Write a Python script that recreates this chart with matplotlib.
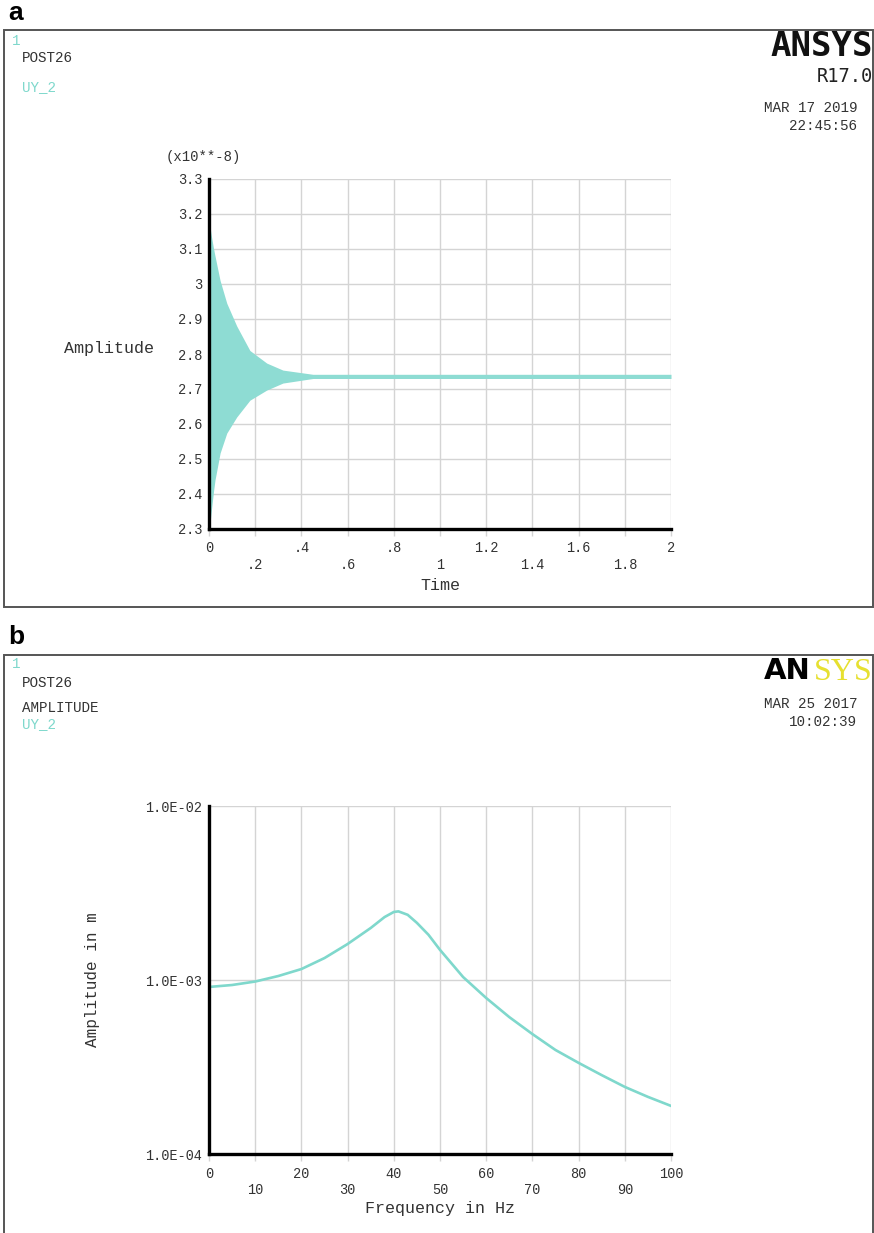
import matplotlib.pyplot as plt
from matplotlib.patches import Rectangle
from matplotlib.ticker import NullLocator

W, H = 874, 1233

# panel a: envelope of the transient response UY_2 (x10**-8)
t_env = [0, 0.005, 0.012, 0.02, 0.026, 0.048, 0.077, 0.12, 0.177, 0.25, 0.32, 0.45, 2.0]
uy_upper = [3.17, 3.16, 3.13, 3.10, 3.08, 3.01, 2.945, 2.88, 2.81, 2.774, 2.754, 2.742, 2.742]
uy_lower = [2.30, 2.32, 2.364, 2.41, 2.44, 2.517, 2.574, 2.62, 2.668, 2.697, 2.717, 2.73, 2.73]
time_major = [0, 0.4, 0.8, 1.2, 1.6, 2.0]
time_major_lbl = ["0", ".4", ".8", "1.2", "1.6", "2"]
time_minor = [0.2, 0.6, 1.0, 1.4, 1.8]
time_minor_lbl = [".2", ".6", "1", "1.4", "1.8"]
amp_ticks = [2.3, 2.4, 2.5, 2.6, 2.7, 2.8, 2.9, 3.0, 3.1, 3.2, 3.3]
amp_lbl = ["2.3", "2.4", "2.5", "2.6", "2.7", "2.8", "2.9", "3", "3.1", "3.2", "3.3"]

# panel b: frequency response amplitude (m)
freq = [0, 5, 10, 15, 20, 25, 30, 35, 38, 40, 41, 43, 45, 47.5, 50, 55, 60, 65, 70, 75, 80, 85, 90, 95, 100]
amp = [9.12e-4, 9.36e-4, 9.80e-4, 1.054e-3, 1.156e-3, 1.337e-3, 1.61e-3, 1.99e-3, 2.30e-3, 2.46e-3,
       2.48e-3, 2.37e-3, 2.13e-3, 1.82e-3, 1.49e-3, 1.04e-3, 7.88e-4, 6.12e-4, 4.89e-4, 3.96e-4,
       3.34e-4, 2.84e-4, 2.43e-4, 2.13e-4, 1.89e-4]
freq_major = [0, 20, 40, 60, 80, 100]
freq_minor = [10, 30, 50, 70, 90]
logy_ticks = [1e-4, 1e-3, 1e-2]
logy_lbl = ["1.0E-04", "1.0E-03", "1.0E-02"]

CYAN = "#7fd8cc"
FILL = "#8edcd3"
GRID = "#d4d4d4"
TXT = "#333333"
MONO = "Liberation Mono"

fig = plt.figure(figsize=(W / 100, H / 100), dpi=100)


def ftext(x, y, s, **kw):
    # place text by pixel position of the reference picture
    kw.setdefault("family", MONO)
    kw.setdefault("color", TXT)
    kw.setdefault("fontsize", 10.3)
    kw.setdefault("va", "center")
    fig.text(x / W, 1 - y / H, s, **kw)


def frame(x0, y0, x1, y1):
    fig.patches.append(Rectangle((x0 / W, 1 - y1 / H), (x1 - x0) / W, (y1 - y0) / H,
                                 transform=fig.transFigure, fill=False, ec="#555555", lw=1.4))


def style_axes(ax):
    for s in ["top", "right"]:
        ax.spines[s].set_visible(False)
    for s in ["left", "bottom"]:
        ax.spines[s].set_linewidth(2.4)
        ax.spines[s].set_color("black")
        ax.spines[s].set_zorder(5)
    ax.grid(True, which="both", axis="x", color=GRID, lw=1)
    ax.grid(True, which="major", axis="y", color=GRID, lw=1)
    ax.set_axisbelow(True)
    ax.tick_params(axis="x", which="major", direction="out", length=5, width=1, color=GRID,
                   labelsize=9.8, labelcolor=TXT, pad=4)
    ax.tick_params(axis="x", which="minor", direction="out", length=5, width=1, color=GRID,
                   labelsize=9.8, labelcolor=TXT, pad=16)
    ax.tick_params(axis="y", which="major", length=0, labelsize=9.8, labelcolor=TXT, pad=5)
    for lbl in ax.get_xticklabels(which="both") + ax.get_yticklabels():
        lbl.set_family(MONO)


# ---------- panel a ----------
ftext(8, 13, "a", family="Liberation Sans", fontweight="bold", fontsize=19, color="black")
frame(4, 30, 873, 607)
ftext(12, 41, "1", color=CYAN)
ftext(22, 58, "POST26")
ftext(22, 87, "UY_2", color=CYAN)
ftext(873, 47, "ANSYS", family="DejaVu Sans Mono", fontweight="bold", fontsize=24.5, color="#111111", ha="right")
ftext(873, 77, "R17.0", family="DejaVu Sans Mono", fontsize=13.5, color="#222222", ha="right")
ftext(857, 108, "MAR 17 2019", ha="right")
ftext(857, 126, "22:45:56", ha="right")

axa = fig.add_axes([209 / W, 1 - 529 / H, 462 / W, 350 / H])
axa.fill_between(t_env, uy_lower, uy_upper, color=FILL, lw=0, zorder=2)
axa.set_xlim(0, 2)
axa.set_ylim(2.3, 3.3)
axa.set_xticks(time_major)
axa.set_xticklabels(time_major_lbl)
axa.set_xticks(time_minor, minor=True)
axa.set_xticklabels(time_minor_lbl, minor=True)
axa.set_yticks(amp_ticks)
axa.set_yticklabels(amp_lbl)
style_axes(axa)
ftext(166, 157, "(x10**-8)", fontsize=10)
ftext(64, 348, "Amplitude", fontsize=12)
ftext(440, 586, "Time", fontsize=12, ha="center")

# ---------- panel b ----------
ftext(8, 637, "b", family="Liberation Sans", fontweight="bold", fontsize=19, color="black")
frame(4, 655, 873, 1245)
ftext(12, 664, "1", color=CYAN)
ftext(22, 683, "POST26")
ftext(22, 708, "AMPLITUDE")
ftext(22, 724, "UY_2", color=CYAN)
ftext(811, 671, "AN", family="DejaVu Sans", fontweight="heavy", fontsize=21, color="black", ha="right")
ftext(873, 672, "SYS", family="Liberation Serif", fontsize=23, color="#e6e030", ha="right")
ftext(857, 704, "MAR 25 2017", ha="right")
ftext(857, 722, "10:02:39", ha="right")

axb = fig.add_axes([209 / W, 1 - 1154 / H, 462 / W, 348 / H])
axb.plot(freq, amp, color=CYAN, lw=1.9, zorder=3)
axb.set_yscale("log")
axb.set_xlim(0, 100)
axb.set_ylim(1e-4, 1e-2)
axb.set_xticks(freq_major)
axb.set_xticklabels([str(v) for v in freq_major])
axb.set_xticks(freq_minor, minor=True)
axb.set_xticklabels([str(v) for v in freq_minor], minor=True)
axb.set_yticks(logy_ticks)
axb.set_yticklabels(logy_lbl)
axb.yaxis.set_minor_locator(NullLocator())
style_axes(axb)
ftext(93, 980, "Amplitude in m", fontsize=11.5, rotation=90, ha="center")
ftext(440, 1208, "Frequency in Hz", fontsize=12, ha="center")

fig.savefig("out.png", dpi=100)
